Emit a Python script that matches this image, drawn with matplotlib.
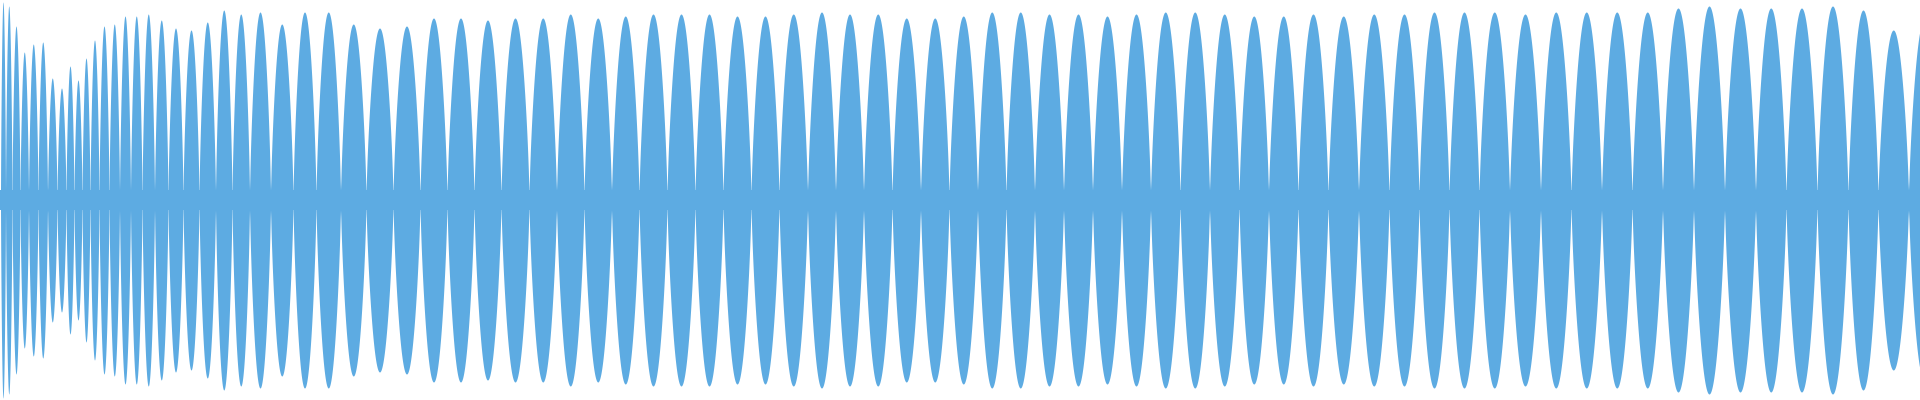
import numpy as np
import matplotlib
matplotlib.use('Agg')
import matplotlib.pyplot as plt

# lobe centres (pixel x) and peak amplitudes (fraction of half height)
centers = [3, 8, 16, 24, 33, 43, 52, 62, 70, 78, 86, 94, 104, 114, 125, 136, 148,
           161, 175, 191, 207, 224, 240, 259, 282, 304, 328, 353, 379,
           407, 433, 461, 487, 515, 543, 570, 598, 625, 653, 681, 709, 737,
           765, 793, 822, 849, 878, 906, 935, 963, 992, 1020, 1049, 1078, 1107,
           1136, 1165, 1195, 1224, 1254, 1283, 1313, 1343, 1374, 1404, 1434, 1464, 1494,
           1525, 1556, 1586, 1617, 1647, 1678, 1709, 1740, 1771, 1801, 1833, 1863, 1893, 1924]
amps = [0.99, 0.97, 0.87, 0.74, 0.78, 0.79, 0.61, 0.56, 0.67, 0.60, 0.71, 0.80, 0.87, 0.88,
        0.92, 0.92, 0.93, 0.90, 0.86, 0.85, 0.89, 0.95, 0.93, 0.94, 0.88, 0.94, 0.94, 0.88, 0.86,
        0.87, 0.91, 0.91, 0.90, 0.91, 0.91, 0.93, 0.91, 0.92, 0.93, 0.93, 0.93, 0.92,
        0.92, 0.93, 0.94, 0.93, 0.93, 0.91, 0.91, 0.92, 0.94, 0.94, 0.93, 0.93, 0.92,
        0.93, 0.94, 0.94, 0.93, 0.92, 0.92, 0.93, 0.92, 0.93, 0.93, 0.94, 0.94, 0.94,
        0.93, 0.94, 0.94, 0.94, 0.94, 0.96, 0.97, 0.96, 0.96, 0.96, 0.97, 0.95, 0.85, 0.90]
FLOOR = 0.05
COLOR = '#5DABE2'

fig = plt.figure(figsize=(19.2, 4), dpi=100)
ax = fig.add_axes([0, 0, 1, 1])

c = np.array(centers, dtype=float)
edges = np.concatenate([[c[0] - (c[1] - c[0]) / 2], (c[:-1] + c[1:]) / 2,
                        [c[-1] + (c[-1] - c[-2]) / 2]])
for i, a in enumerate(amps):
    lo, hi = edges[i], edges[i + 1]
    xs = np.linspace(lo, hi, 80)
    # rounded bump between troughs
    env = np.maximum(a * np.sin(np.pi * (xs - lo) / (hi - lo)) ** 0.7, FLOOR)
    ax.fill_between(xs, -env, env, color=COLOR, linewidth=0)
ax.fill_between([0, 1920], -FLOOR, FLOOR, color=COLOR, linewidth=0)

ax.set_xlim(0, 1920)
ax.set_ylim(-1, 1)
ax.axis('off')
fig.savefig('out.png', dpi=100, facecolor='white')
